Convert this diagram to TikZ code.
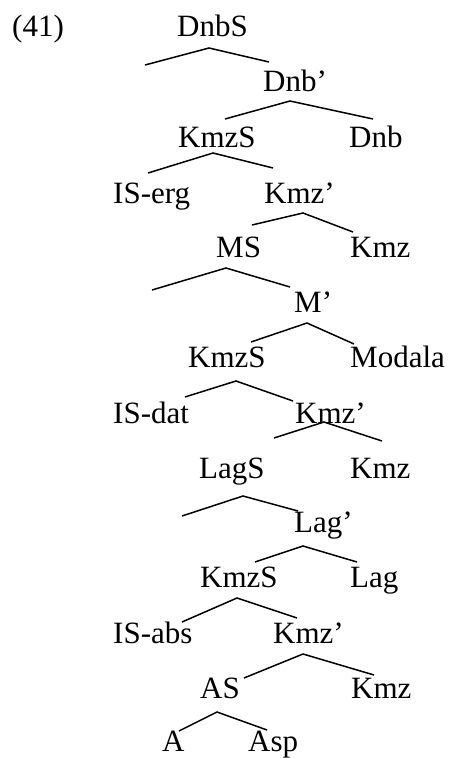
\documentclass[tikz,border=0pt]{standalone}
\usepackage{fontspec}
\setmainfont{Liberation Serif}
\begin{document}
\begin{tikzpicture}[x=1pt,y=-1pt,
  lab/.style={anchor=base west,inner sep=0pt,font=\fontsize{31}{37}\selectfont},
  br/.style={line width=1.5pt,line join=miter}]
\useasboundingbox (0,0) rectangle (450,758);
% labels
\node[lab] (ex) at (12,36) {(41)};
\node[lab] (dnbs) at (177,36) {DnbS};
\node[lab] (dnbp) at (263,91) {Dnb’};
\node[lab] (kmzs1) at (178,147) {KmzS};
\node[lab] (dnb) at (349,147) {Dnb};
\node[lab] (iserg) at (113,203) {IS-erg};
\node[lab] (kmzp1) at (264,203) {Kmz’};
\node[lab] (ms) at (216,257) {MS};
\node[lab] (kmz1) at (350,257) {Kmz};
\node[lab] (mp) at (294,312) {M’};
\node[lab] (kmzs2) at (188,367) {KmzS};
\node[lab] (modala) at (350,367) {Modala};
\node[lab] (isdat) at (113,423) {IS-dat};
\node[lab] (kmzp2) at (295,423) {Kmz’};
\node[lab] (lags) at (199,478) {LagS};
\node[lab] (kmz2) at (350,478) {Kmz};
\node[lab] (lagp) at (294,532) {Lag’};
\node[lab] (kmzs3) at (200,587) {KmzS};
\node[lab] (lag) at (350,587) {Lag};
\node[lab] (isabs) at (113,643) {IS-abs};
\node[lab] (kmzp3) at (273,643) {Kmz’};
\node[lab] (as) at (200,698) {AS};
\node[lab] (kmz3) at (351,698) {Kmz};
\node[lab] (a) at (162,751) {A};
\node[lab] (asp) at (248,751) {Asp};
% branch points
\coordinate (b1l) at (145,65);  \coordinate (b1t) at (209,48);  \coordinate (b1r) at (269,62);
\coordinate (b2l) at (225,119); \coordinate (b2t) at (290,101); \coordinate (b2r) at (373,119);
\coordinate (b3l) at (148,173); \coordinate (b3t) at (213,153); \coordinate (b3r) at (273,168);
\coordinate (b4l) at (252,225); \coordinate (b4t) at (303,213); \coordinate (b4r) at (353,232);
\coordinate (b5l) at (152,290); \coordinate (b5t) at (226,268); \coordinate (b5r) at (290,287);
\coordinate (b6l) at (251,342); \coordinate (b6t) at (307,323); \coordinate (b6r) at (354,344);
\coordinate (b7l) at (185,397); \coordinate (b7t) at (236,381); \coordinate (b7r) at (293,401);
\coordinate (b8l) at (274,438); \coordinate (b8t) at (324,422); \coordinate (b8r) at (382,441);
\coordinate (b9l) at (182,516); \coordinate (b9t) at (243,496); \coordinate (b9r) at (298,511);
\coordinate (b10l) at (255,562); \coordinate (b10t) at (303,546); \coordinate (b10r) at (357,562);
\coordinate (b11l) at (182,622); \coordinate (b11t) at (237,598); \coordinate (b11r) at (297,618);
\coordinate (b12l) at (244,678); \coordinate (b12t) at (303,654); \coordinate (b12r) at (374,675);
\coordinate (b13l) at (179,731); \coordinate (b13t) at (217,712); \coordinate (b13r) at (267,730);
\foreach \i in {1,...,13}{
  \draw[br] (b\i l) -- (b\i t) -- (b\i r);
}
\end{tikzpicture}
\end{document}
